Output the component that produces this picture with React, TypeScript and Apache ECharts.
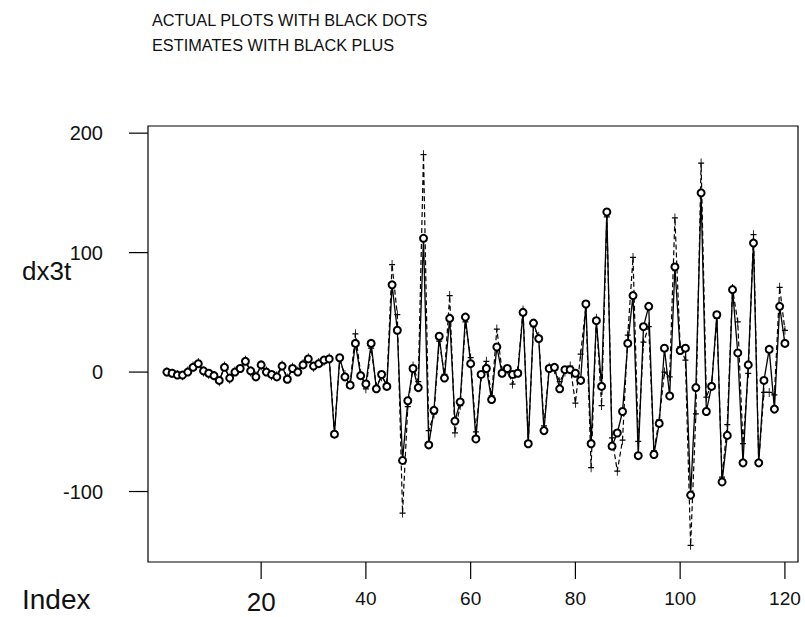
import React, { useEffect, useRef } from 'react';
import * as echarts from 'echarts';

// First observation index (index 1 has no value after differencing)
const firstIndex = 2;

// Actual dx3t values, index 2..120
const actual = [
  0, -1, -2.5, -2.5, 0, 4, 7, 1, -1, -3,
  -7, 4, -5, 0, 3, 9, 1, -4, 6, 0,
  -2, -4, 5, -6, 3, 0, 6, 11, 5, 7,
  10, 11, -52, 12, -4, -11, 24, -3, -10, 24,
  -14, -2, -12, 73, 35, -74, -24, 3, -13, 112,
  -61, -32, 30, -5, 45, -41, -25, 46, 7, -56,
  -2, 3, -23, 21, -1, 3, -2, -1, 50, -60,
  41, 28, -49, 3, 4, -14, 2, 2, -1, -7,
  57, -60, 43, -12, 134, -62, -51, -33, 24, 64,
  -70, 38, 55, -69, -43, 20, -20, 88, 18, 20,
  -103, -13, 150, -33, -12, 48, -92, -53, 69, 16,
  -76, 6, 108, -76, -7, 19, -31, 55, 24,
];

// Estimated dx3t values, index 2..120
const estimate = [
  0, -1, -2, -3, 1, 5, 8, 0, -2, -3,
  -8, 5, -6, 1, 3, 10, 0, -3, 5, 1,
  -3, -3, 6, -5, 4, 1, 7, 12, 4, 8,
  9, 12, -50, 10, -2, -9, 32, -1, -14, 20,
  -12, -4, -10, 90, 48, -118, -29, 5, -8, 182,
  -49, -35, 26, -2, 64, -51, -28, 42, 12, -50,
  -4, 9, -20, 36, 1, 2, -10, 1, 52, -58,
  38, 30, -45, 4, 2, -8, 0, 5, -26, 15,
  55, -80, 45, -28, 130, -55, -83, -57, 31, 96,
  -58, 25, 38, -66, -40, 0, -4, 129, 21, 10,
  -145, -35, 175, -21, -10, 45, -88, -44, 70, 42,
  -60, -1, 115, -75, -17, -17, -19, 71, 35,
];

// Box (frame) extent in data units and tick labels
const xRange = [-1.6, 122.5];
const yRange = [-159, 206];
const xTickValues = [20, 40, 60, 80, 100, 120];
const yTickValues = [-100, 0, 100, 200];

const titleLines = ['ACTUAL PLOTS WITH BLACK DOTS', 'ESTIMATES WITH BLACK PLUS'];
const yName = 'dx3t';
const xName = 'Index';

const W = 805;
const H = 617;
const PLOT = { left: 148, top: 126, right: 7, bottom: 55 };
const X_TICK_LEN = 17;
const Y_TICK_LEN = 19;

const PLUS = 'path://M4.3,0H5.7V4.3H10V5.7H5.7V10H4.3V5.7H0V4.3H4.3Z';
const FONT = '"Liberation Sans", Arial, Helvetica, sans-serif';
const INK = '#111';

export default function App() {
  const ref = useRef<HTMLDivElement>(null);
  useEffect(() => {
    const chart = echarts.init(ref.current!, null, { renderer: 'svg' });
    const toPairs = (arr: number[]) => arr.map((v, k) => [firstIndex + k, v]);

    // The grid is widened to hold the outward tick marks; the axis extents are
    // widened by the same pixel amounts so the frame keeps its place.
    const plotW = W - PLOT.left - PLOT.right;
    const plotH = H - PLOT.top - PLOT.bottom;
    const xUnitsPerPx = (xRange[1] - xRange[0]) / plotW;
    const yUnitsPerPx = (yRange[1] - yRange[0]) / plotH;
    const xMinExt = xRange[0] - Y_TICK_LEN * xUnitsPerPx;
    const yMinExt = yRange[0] - X_TICK_LEN * yUnitsPerPx;

    const tickItem = (dir: 'x' | 'y') => (params: any, api: any) => {
      const v = api.value(0);
      const p = dir === 'x' ? api.coord([v, yRange[0]]) : api.coord([xRange[0], v]);
      return {
        type: 'line',
        shape:
          dir === 'x'
            ? { x1: p[0], y1: p[1], x2: p[0], y2: p[1] + X_TICK_LEN }
            : { x1: p[0], y1: p[1], x2: p[0] - Y_TICK_LEN, y2: p[1] },
        style: { stroke: '#000', lineWidth: 1.2 },
      };
    };

    const frameItem = (params: any, api: any) => {
      const p0 = api.coord([xRange[0], yRange[1]]);
      const p1 = api.coord([xRange[1], yRange[0]]);
      return {
        type: 'rect',
        shape: { x: p0[0], y: p0[1], width: p1[0] - p0[0], height: p1[1] - p0[1] },
        style: { fill: 'none', stroke: '#000', lineWidth: 1.2 },
      };
    };

    chart.setOption({
      animation: false,
      backgroundColor: '#fff',
      textStyle: { fontFamily: FONT },
      grid: {
        left: PLOT.left - Y_TICK_LEN,
        top: PLOT.top,
        right: PLOT.right,
        bottom: PLOT.bottom - X_TICK_LEN,
        show: false,
      },
      xAxis: {
        type: 'value',
        min: xMinExt,
        max: xRange[1],
        splitLine: { show: false },
        axisLine: { show: false, onZero: false },
        axisTick: { show: false },
        axisLabel: {
          customValues: xTickValues,
          margin: 10,
          fontSize: 19,
          color: INK,
          fontFamily: FONT,
          formatter: (v: number) => (v === 20 ? '{big|20}' : String(v)),
          rich: { big: { fontSize: 26, fontFamily: FONT, color: INK } },
        },
      },
      yAxis: {
        type: 'value',
        min: yMinExt,
        max: yRange[1],
        splitLine: { show: false },
        axisLine: { show: false, onZero: false },
        axisTick: { show: false },
        axisLabel: {
          customValues: yTickValues,
          margin: 26,
          fontSize: 20,
          color: INK,
          fontFamily: FONT,
        },
      },
      graphic: [
        { type: 'text', left: 152, top: 12, style: { text: titleLines[0], font: `16.3px ${FONT}`, fill: INK } },
        { type: 'text', left: 152, top: 37, style: { text: titleLines[1], font: `16.3px ${FONT}`, fill: INK } },
        { type: 'text', left: 22, top: 258, style: { text: yName, font: `26px ${FONT}`, fill: INK } },
        { type: 'text', left: 22, top: 585, style: { text: xName, font: `28px ${FONT}`, fill: INK } },
      ],
      series: [
        {
          type: 'custom',
          name: 'frame',
          clip: false,
          silent: true,
          z: 1,
          renderItem: frameItem,
          data: [[xRange[0], yRange[0]]],
          encode: { x: 0, y: 1 },
        },
        {
          type: 'custom',
          name: 'xTicks',
          clip: false,
          silent: true,
          z: 1,
          renderItem: tickItem('x'),
          data: xTickValues.map((v) => [v]),
          encode: { x: 0 },
        },
        {
          type: 'custom',
          name: 'yTicks',
          clip: false,
          silent: true,
          z: 1,
          renderItem: tickItem('y'),
          data: yTickValues.map((v) => [v]),
          encode: { y: 0 },
        },
        {
          name: 'Estimate',
          type: 'line',
          data: toPairs(estimate),
          symbol: PLUS,
          symbolSize: [6, 9],
          showSymbol: true,
          showAllSymbol: true,
          lineStyle: { color: '#000', width: 1.2, type: [5, 3] },
          itemStyle: { color: '#000' },
          z: 2,
        },
        {
          name: 'Actual',
          type: 'line',
          data: toPairs(actual),
          symbol: 'emptyCircle',
          symbolSize: 7,
          showSymbol: true,
          showAllSymbol: true,
          lineStyle: { color: '#000', width: 1.3 },
          itemStyle: { color: '#000', borderWidth: 1.4 },
          z: 3,
        },
      ],
    });
    return () => chart.dispose();
  }, []);
  return (
    <div
      ref={ref}
      style={{ position: 'absolute', left: 0, top: 0, width: W, height: H }}
    />
  );
}
